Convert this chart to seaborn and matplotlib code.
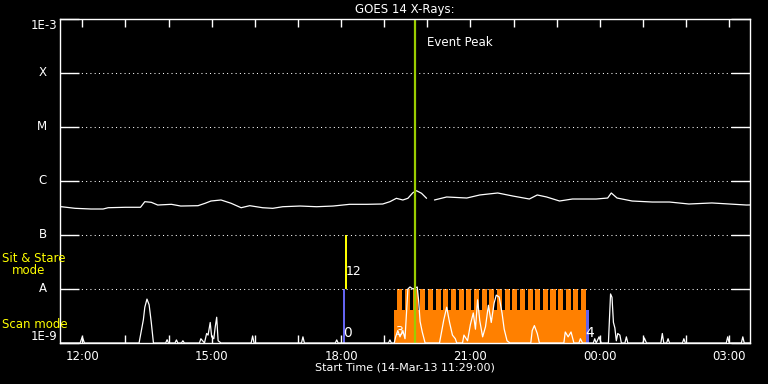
import pandas as pd
import matplotlib
matplotlib.use("Agg")
import matplotlib.pyplot as plt
import matplotlib.dates as mdates
from matplotlib.ticker import NullLocator
import seaborn as sns

# plot window starts 14-Mar-13 11:29, anything before 11:00 is the next day
DAY = "2013-03-14"
START = "11:29"
END = "03:29"

# GOES 14 long-channel flux (W/m^2)
goes_times = ["11:29", "11:31", "11:50", "12:12", "12:29", "12:36", "13:00", "13:21",
              "13:27", "13:36", "13:45", "14:04", "14:17", "14:41", "14:51", "14:59",
              "15:13", "15:27", "15:41", "15:53", "16:11", "16:25", "16:39", "17:03",
              "17:26", "17:49", "18:12", "18:36", "18:58", "19:08", "19:17", "19:26",
              "19:33", "19:40", "19:45", "19:52", "19:59",
              "20:10", "20:27", "20:55", "21:13", "21:38", "21:59", "22:22", "22:33",
              "22:46", "23:04", "23:22", "23:55", "00:11", "00:16", "00:24", "00:45",
              "01:13", "01:37", "02:04", "02:36", "03:24", "03:29"]
goes_flux = [3.30e-7, 3.34e-7, 3.12e-7, 3.03e-7, 3.03e-7, 3.20e-7, 3.26e-7, 3.26e-7,
             4.14e-7, 4.03e-7, 3.59e-7, 3.70e-7, 3.44e-7, 3.49e-7, 3.87e-7, 4.26e-7,
             4.45e-7, 3.87e-7, 3.20e-7, 3.49e-7, 3.20e-7, 3.12e-7, 3.34e-7, 3.44e-7,
             3.34e-7, 3.44e-7, 3.70e-7, 3.70e-7, 3.75e-7, 4.14e-7, 4.78e-7, 4.45e-7,
             4.78e-7, 6.07e-7, 6.61e-7, 5.92e-7, 4.78e-7,
             4.45e-7, 5.06e-7, 4.84e-7, 5.51e-7, 6.00e-7, 5.27e-7, 4.64e-7, 5.51e-7,
             5.06e-7, 4.26e-7, 4.64e-7, 4.64e-7, 4.84e-7, 6.00e-7, 4.84e-7, 4.26e-7,
             4.08e-7, 4.08e-7, 3.75e-7, 3.92e-7, 3.59e-7, 3.60e-7]
# data gap between 19:59 and 20:10
goes_segment = [0] * 37 + [1] * 22

# lower trace drawn in the scan-mode strip
low_times = ["11:29", "11:57", "12:00", "12:03",
             "13:19", "13:25", "13:27", "13:30", "13:33", "13:36", "13:39",
             "13:56", "13:58", "14:00", "14:09", "14:11", "14:13", "14:18", "14:20", "14:22",
             "14:43", "14:45", "14:50", "14:53", "14:55", "14:58", "15:00", "15:03", "15:05",
             "15:07", "15:09", "15:13",
             "15:55", "15:57", "15:59", "17:05", "17:07", "17:09", "17:52", "17:54", "17:56",
             "19:06", "19:08", "19:10", "19:14", "19:16", "19:19", "19:22", "19:26", "19:29",
             "19:31", "19:33", "19:36", "19:40", "19:43", "19:46", "19:48", "19:50",
             "19:53", "19:57",
             "20:17", "20:23", "20:27", "20:31", "20:35", "20:39", "20:41",
             "20:49", "20:51", "20:56", "21:00", "21:04", "21:07", "21:10", "21:13", "21:17",
             "21:21", "21:25", "21:29", "21:33", "21:36", "21:40", "21:44", "21:47",
             "21:51", "21:55",
             "22:24", "22:26", "22:29", "22:33", "22:36",
             "23:10", "23:12", "23:16", "23:20", "23:24", "23:31", "23:33", "23:36",
             "23:51", "23:53", "23:55", "23:59", "00:02",
             "00:12", "00:15", "00:17", "00:19", "00:21", "00:23", "00:25", "00:28",
             "00:30", "00:35", "00:37", "00:39",
             "01:00", "01:02", "01:05", "01:25", "01:27", "01:29", "01:33", "01:35", "01:37",
             "01:55", "01:57", "01:59",
             "02:56", "02:58", "03:00", "03:17", "03:19", "03:21", "03:29"]
low_flux = [1.0e-9, 1.0e-9, 1.3e-9, 1.0e-9,
            1.0e-9, 2.7e-9, 4.6e-9, 6.5e-9, 5.1e-9, 2.4e-9, 1.0e-9,
            1.0e-9, 1.15e-9, 1.0e-9, 1.0e-9, 1.14e-9, 1.0e-9, 1.0e-9, 1.1e-9, 1.0e-9,
            1.0e-9, 1.2e-9, 1.0e-9, 1.5e-9, 1.4e-9, 2.4e-9, 1.3e-9, 1.2e-9, 2.0e-9,
            3.0e-9, 1.1e-9, 1.0e-9,
            1.0e-9, 1.35e-9, 1.0e-9, 1.0e-9, 1.3e-9, 1.0e-9, 1.0e-9, 1.14e-9, 1.0e-9,
            1.0e-9, 1.14e-9, 1.0e-9, 1.0e-9, 1.3e-9, 1.7e-9, 1.3e-9, 1.7e-9, 1.2e-9,
            3.6e-9, 1.0e-8, 1.09e-8, 1.0e-8, 1.04e-8, 1.09e-8, 6.0e-9, 2.5e-9,
            1.6e-9, 1.0e-9,
            1.0e-9, 2.7e-9, 4.6e-9, 2.4e-9, 1.4e-9, 1.2e-9, 1.0e-9,
            1.0e-9, 1.4e-9, 1.1e-9, 2.2e-9, 3.6e-9, 1.8e-9, 6.3e-9, 2.6e-9, 1.3e-9,
            2.0e-9, 5.0e-9, 2.4e-9, 5.5e-9, 7.7e-9, 7.1e-9, 3.6e-9, 1.8e-9,
            1.1e-9, 1.0e-9,
            1.0e-9, 1.7e-9, 2.1e-9, 1.5e-9, 1.0e-9,
            1.0e-9, 1.6e-9, 1.3e-9, 1.6e-9, 1.0e-9, 1.0e-9, 1.2e-9, 1.0e-9,
            1.0e-9, 1.2e-9, 1.0e-9, 1.3e-9, 1.0e-9,
            1.0e-9, 8.1e-9, 7.0e-9, 2.4e-9, 1.9e-9, 1.1e-9, 1.5e-9, 1.4e-9,
            1.0e-9, 1.0e-9, 1.3e-9, 1.0e-9,
            1.0e-9, 1.24e-9, 1.0e-9, 1.0e-9, 1.5e-9, 1.0e-9, 1.0e-9, 1.2e-9, 1.0e-9,
            1.0e-9, 1.2e-9, 1.0e-9,
            1.0e-9, 1.3e-9, 1.0e-9, 1.0e-9, 1.3e-9, 1.0e-9, 1.0e-9]

# observation blocks (start, end, bottom, top)
sit_stare = ("18:06:00", "18:08:30", 1e-8, 1e-7)
scan_pre = ("18:02:30", "18:06:00", 1e-9, 1e-8)
scan_block = ("19:13:20", "23:41:20", 1e-9, 4.08e-9)
scan_post = ("23:41:20", "23:44:30", 1e-9, 4.08e-9)
raster_starts = ["19:18:24", "19:29:03", "19:39:42", "19:50:21", "20:01:00", "20:11:39",
                 "20:22:18", "20:32:57", "20:43:36", "20:54:15", "21:04:54", "21:15:33",
                 "21:26:12", "21:36:51", "21:47:30", "21:58:09", "22:08:48", "22:19:27",
                 "22:30:06", "22:40:45", "22:51:24", "23:02:03", "23:12:42", "23:23:21",
                 "23:34:00"]
raster_minutes = 7
raster_top = 1e-8

event_peak = "19:43:27"

levels = [1e-9, 1e-8, 1e-7, 1e-6, 1e-5, 1e-4, 1e-3]
level_names = ["1E-9", "A", "B", "C", "M", "X", "1E-3"]

YELLOW = "#ffff00"
ORANGE = "#ff8000"
BLUE = "#6464f0"
GREEN = "#9acd00"


def stamp(hhmm):
    t = pd.Timestamp(f"{DAY} {hhmm}")
    if t.hour < 11:
        t += pd.Timedelta(days=1)
    return t


def px(x, y):
    # pixel position (from top-left) to figure fraction
    return x / 768, 1 - y / 384


def block(ax, spec, color, z=2):
    t0, t1, lo, hi = spec
    ax.fill_between([stamp(t0), stamp(t1)], [lo, lo], [hi, hi], color=color, lw=0, zorder=z)


sns.set_theme(style="dark", rc={
    "figure.facecolor": "black", "axes.facecolor": "black",
    "axes.edgecolor": "white", "axes.linewidth": 1.0,
    "text.color": "white", "xtick.color": "white", "ytick.color": "white",
})
plt.rcParams["font.family"] = ["DejaVu Sans"]

goes = pd.DataFrame({"time": [stamp(t) for t in goes_times], "flux": goes_flux,
                     "seg": goes_segment})
low = pd.DataFrame({"time": [stamp(t) for t in low_times], "flux": low_flux})

fig = plt.figure(figsize=(7.68, 3.84), dpi=100)
ax = fig.add_axes([60 / 768, 41 / 384, 690 / 768, 324 / 384])

# observing modes
block(ax, scan_block, ORANGE)
for s in raster_starts:
    t0 = stamp(s)
    ax.fill_between([t0, t0 + pd.Timedelta(minutes=raster_minutes)], [1e-9, 1e-9],
                    [raster_top, raster_top], color=ORANGE, lw=0, zorder=2)
block(ax, scan_post, BLUE)
block(ax, scan_pre, BLUE)
block(ax, sit_stare, YELLOW)

# x-ray traces
for seg, part in goes.groupby("seg"):
    sns.lineplot(data=part, x="time", y="flux", color="white", lw=0.9,
                 estimator=None, ax=ax, zorder=3)
sns.lineplot(data=low, x="time", y="flux", color="white", lw=0.9,
             estimator=None, ax=ax, zorder=3)

ax.set_yscale("log")
ax.set_ylim(levels[0], levels[-1])
ax.set_xlim(stamp(START), stamp(END))
ax.set_xlabel("")
ax.set_ylabel("")

for lvl in levels[1:-1]:
    ax.axhline(lvl, color="white", lw=0.75, ls=(0, (1, 3.1)), zorder=4)

ax.axvline(stamp(event_peak), color=GREEN, lw=1.6, zorder=6)

# ticks
ax.set_yticks(levels)
ax.set_yticklabels([])
ax.yaxis.set_minor_locator(NullLocator())
ax.tick_params(axis="y", which="major", direction="in", length=14, width=1,
               left=True, right=True, labelleft=False)
ax.xaxis.set_major_locator(mdates.HourLocator(byhour=range(0, 24, 3)))
ax.xaxis.set_major_formatter(mdates.DateFormatter("%H:%M"))
ax.xaxis.set_minor_locator(mdates.HourLocator())
ax.tick_params(axis="x", which="both", direction="in", length=6, width=1,
               top=True, bottom=True, labelsize=8.5, pad=5)
for sp in ax.spines.values():
    sp.set_color("white")
    sp.set_zorder(7)

ytf = ax.get_yaxis_transform()
for lvl, name in zip(levels, level_names):
    if name.startswith("1E"):
        ax.text(-0.004, lvl, name, transform=ytf, ha="right",
                va="top" if lvl > 1e-6 else "bottom", fontsize=8.5)
    else:
        ax.text(-0.019, lvl, name, transform=ytf, ha="right", va="center", fontsize=8.5)

# annotations
ax.text(stamp("19:59"), 3.6e-4, "Event Peak", ha="left", va="center", fontsize=8.5, zorder=8)
ax.text(stamp("18:09:30"), 1.55e-9, "0", ha="center", va="center", fontsize=10, zorder=8)
ax.text(stamp("18:06:00"), 2.07e-8, "12", ha="left", va="center", fontsize=9, zorder=8)
ax.text(stamp("19:20:30"), 1.6e-9, "3", ha="center", va="center", fontsize=9, zorder=8)
ax.text(stamp("23:46:00"), 1.55e-9, "4", ha="center", va="center", fontsize=10, zorder=8)

fig.text(*px(405, 10), "GOES 14 X-Rays:", ha="center", va="center", fontsize=8.5)
fig.text(*px(405, 368), "Start Time (14-Mar-13 11:29:00)", ha="center", va="center",
         fontsize=8)
fig.text(*px(2, 259), "Sit & Stare", ha="left", va="center", fontsize=8.5, color=YELLOW)
fig.text(*px(12, 271), "mode", ha="left", va="center", fontsize=8.5, color=YELLOW)
fig.text(*px(2, 324), "Scan mode", ha="left", va="center", fontsize=8.5, color=YELLOW)

fig.savefig("out.png", dpi=100, facecolor="black")
plt.close(fig)
